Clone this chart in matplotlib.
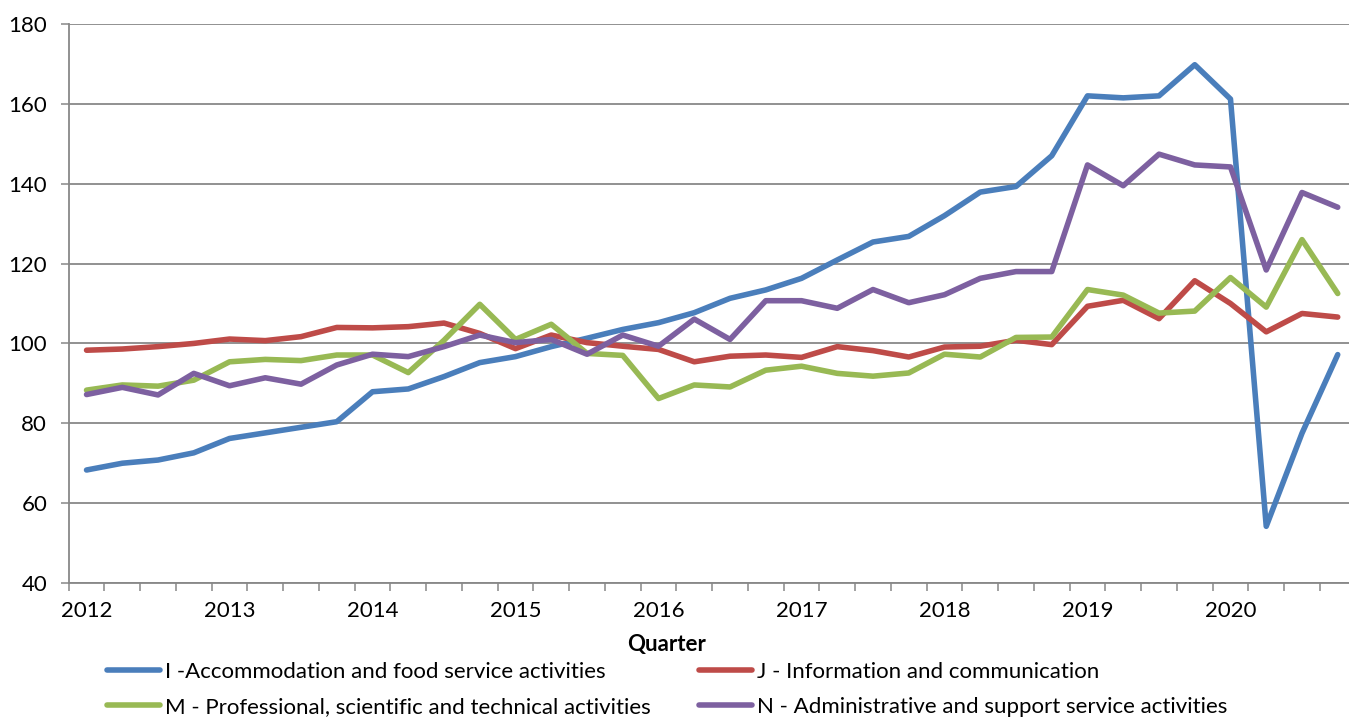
import numpy as np
import matplotlib.pyplot as plt

plt.rcParams['font.family'] = ['Lato', 'DejaVu Sans']

# quarterly index values, 2012 Q1 .. 2020 Q4
years = ["2012", "2013", "2014", "2015", "2016", "2017", "2018", "2019", "2020"]
accommodation = [68.3, 70.0, 70.8, 72.6, 76.2, 77.6, 79.0, 80.4,
                 87.9, 88.6, 91.7, 95.2, 96.7, 99.2, 101.3, 103.5,
                 105.2, 107.7, 111.3, 113.4, 116.3, 120.9, 125.4, 126.8,
                 132.0, 137.9, 139.3, 147.0, 162.0, 161.5, 162.0, 169.8,
                 161.2, 54.2, 77.5, 97.2]
information = [98.3, 98.6, 99.2, 100.0, 101.1, 100.7, 101.7, 104.0,
               103.9, 104.2, 105.1, 102.5, 98.7, 102.1, 100.2, 99.3,
               98.5, 95.4, 96.8, 97.1, 96.5, 99.2, 98.2, 96.6,
               99.1, 99.3, 100.8, 99.7, 109.3, 110.8, 106.2, 115.7,
               110.0, 102.9, 107.5, 106.6]
professional = [88.3, 89.6, 89.3, 90.8, 95.4, 96.0, 95.7, 97.1,
                97.1, 92.7, 100.8, 109.8, 101.0, 104.8, 97.5, 97.0,
                86.2, 89.6, 89.1, 93.3, 94.3, 92.5, 91.8, 92.6,
                97.3, 96.6, 101.5, 101.6, 113.5, 112.1, 107.6, 108.1,
                116.5, 109.1, 126.0, 112.5]
administrative = [87.2, 89.0, 87.1, 92.5, 89.4, 91.4, 89.8, 94.6,
                  97.3, 96.7, 99.2, 102.1, 100.2, 101.0, 97.3, 102.1,
                  99.3, 106.1, 101.0, 110.7, 110.7, 108.8, 113.5, 110.2,
                  112.2, 116.3, 118.0, 118.0, 144.7, 139.5, 147.4, 144.7,
                  144.2, 118.4, 137.8, 134.1]

labels = ["I -Accommodation and food service activities",
          "J - Information and communication",
          "M - Professional, scientific and technical activities",
          "N - Administrative and support service activities"]
colors = ["#4A7EBB", "#BE4B48", "#98B954", "#7D60A0"]

fs = 16
grey = "#888888"

fig = plt.figure(figsize=(13.49, 7.18), dpi=100)
ax = fig.add_axes([0.0509, 0.188, 0.954, 0.7786])

x = np.arange(len(accommodation))
lines = []
for vals, lab, col in zip([accommodation, information, professional, administrative], labels, colors):
    ln, = ax.plot(x, vals, color=col, lw=4.0, label=lab,
                  solid_capstyle='round', solid_joinstyle='round')
    lines.append(ln)

ax.set_xlim(-0.5, len(x) - 0.5)
ax.set_ylim(40, 180)
ax.set_yticks(np.arange(40, 181, 20))
ax.set_xticks(np.arange(0, len(x), 4))
ax.set_xticklabels(years)
ax.set_xticks(np.arange(-0.5, len(x), 1), minor=True)
ax.tick_params(axis='x', which='major', length=0, pad=13, labelsize=fs)
ax.tick_params(axis='x', which='minor', length=5.5, width=1.1, color=grey)
ax.tick_params(axis='y', length=5.5, width=1.1, color=grey, pad=10, labelsize=fs)

ax.grid(axis='y', color=grey, lw=1.3)
ax.set_axisbelow(True)
for s in ['top', 'right']:
    ax.spines[s].set_visible(False)
for s in ['left', 'bottom']:
    ax.spines[s].set_color(grey)
    ax.spines[s].set_linewidth(1.3)

fig.text(667 / 1349, 1 - 645 / 718, "Quarter", ha='center', va='center',
         fontsize=fs, fontweight='bold')

leg_kw = dict(loc='upper left', frameon=False, fontsize=fs, borderpad=0,
              borderaxespad=0, handlelength=2.4, handletextpad=0.2,
              labelspacing=0.68)
fig.legend([lines[0], lines[2]], [labels[0], labels[2]],
           bbox_to_anchor=(107 / 1349, 1 - 662 / 718), **leg_kw)
fig.legend([lines[1], lines[3]], [labels[1], labels[3]],
           bbox_to_anchor=(699 / 1349, 1 - 662 / 718), **leg_kw)

fig.savefig("out.png", dpi=100)
